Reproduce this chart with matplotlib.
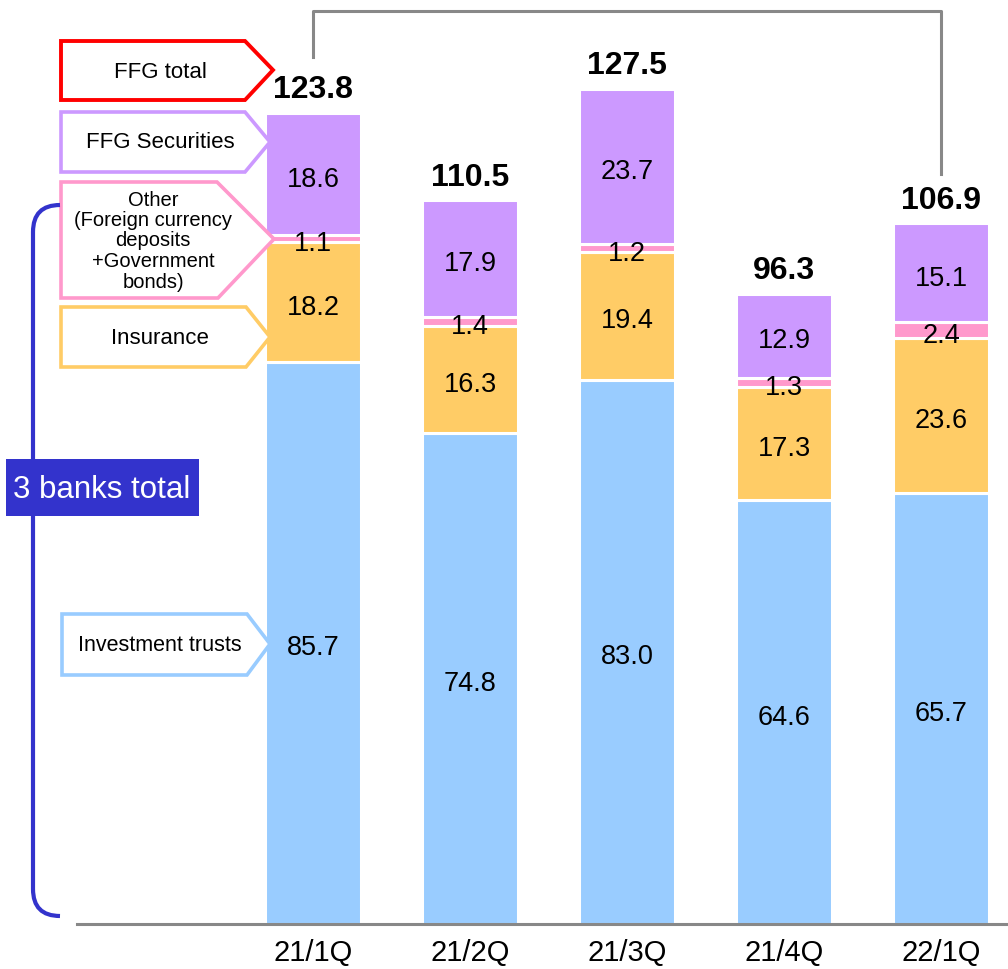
import numpy as np
import matplotlib.pyplot as plt
from matplotlib.patches import Polygon, Rectangle, PathPatch
from matplotlib.path import Path

plt.rcParams['font.family'] = ['Liberation Sans', 'DejaVu Sans']

# data
quarters = ['21/1Q', '21/2Q', '21/3Q', '21/4Q', '22/1Q']
invest_trusts = [85.7, 74.8, 83.0, 64.6, 65.7]
insurance = [18.2, 16.3, 19.4, 17.3, 23.6]
other = [1.1, 1.4, 1.2, 1.3, 2.4]
ffg_securities = [18.6, 17.9, 23.7, 12.9, 15.1]
ffg_total = [123.8, 110.5, 127.5, 96.3, 106.9]

series = [invest_trusts, insurance, other, ffg_securities]
colors = ['#99ccff', '#ffcc66', '#ff99cc', '#cc99ff']

fig = plt.figure(figsize=(10.08, 9.70), dpi=100)

# main axes, pixel layout: baseline at y=925, bar centres at 313 + 157*i
ax = fig.add_axes([0, 45 / 970, 1, 925 / 970])
ax.set_xlim(-313 / 157, 695 / 157)
ax.set_ylim(0, 925 / 6.56)
ax.patch.set_alpha(0)
for s in ax.spines.values():
    s.set_visible(False)
ax.set_yticks([])

x = np.arange(len(quarters))
bottom = np.zeros(len(quarters))
for vals, c in zip(series, colors):
    vals = np.array(vals)
    ax.bar(x, vals, width=0.61, bottom=bottom, color=c,
           edgecolor='white', linewidth=2.2, zorder=2)
    for xi, b, v in zip(x, bottom, vals):
        ax.text(xi, b + v / 2 - 0.7, f'{v:.1f}', ha='center', va='center',
                fontsize=19.5, color='black', zorder=4)
    bottom = bottom + vals

for xi, t in zip(x, ffg_total):
    ax.text(xi, t + 2.2, f'{t:.1f}', ha='center', va='baseline',
            fontsize=23, fontweight='bold', zorder=4)

# baseline
ax.plot([-1.503, 4.5], [0, 0], color='#888888', lw=2.2, clip_on=False, zorder=3)

# gray bracket from first to last quarter
ytop = 139.2
ax.plot([x[0], x[0], x[-1], x[-1]],
        [ffg_total[0] + 8.4, ytop, ytop, ffg_total[-1] + 7.4],
        color='#888888', lw=2.2, clip_on=False, zorder=3)

ax.set_xticks(x, quarters)
ax.tick_params(axis='x', length=0, pad=10, labelsize=21)

# overlay in pixel coordinates for the legend call-outs
ov = fig.add_axes([0, 0, 1, 1])
ov.set_xlim(0, 1008)
ov.set_ylim(970, 0)
ov.axis('off')
ov.patch.set_alpha(0)


def callout(x0, y0, y1, xr_top, xr_bot, xtip, ytip, color, lw=2.6):
    pts = [(x0, y0), (xr_top, y0), (xtip, ytip), (xr_bot, y1), (x0, y1)]
    ov.add_patch(Polygon(pts, closed=True, facecolor='white',
                         edgecolor=color, lw=lw, joinstyle='miter'))


callout(61, 42, 101, 245, 245, 273, 71, '#ff0000', lw=2.8)
ov.text(160, 72, 'FFG total', ha='center', va='center', fontsize=16)

callout(61, 113, 173, 245, 245, 270, 143, '#cc99ff')
ov.text(160, 143, 'FFG Securities', ha='center', va='center', fontsize=16)

callout(61, 183, 299, 217, 218, 274, 240, '#ff99cc')
ov.text(153, 241, 'Other\n(Foreign currency\ndeposits\n+Government\nbonds)',
        ha='center', va='center', fontsize=14.5, linespacing=1.1)

callout(61, 308, 368, 246, 246, 270, 338, '#ffcc66')
ov.text(160, 339, 'Insurance', ha='center', va='center', fontsize=16)

callout(62, 615, 676, 247, 247, 270, 645, '#99ccff')
ov.text(160, 646, 'Investment trusts', ha='center', va='center', fontsize=15.5)

# blue bracket for the three banks
verts = [(60, 206), (33, 206), (33, 233), (33, 890), (33, 917), (60, 917)]
codes = [Path.MOVETO, Path.CURVE3, Path.CURVE3, Path.LINETO, Path.CURVE3, Path.CURVE3]
ov.add_patch(PathPatch(Path(verts, codes), facecolor='none',
                       edgecolor='#3333cc', lw=3.0))
ov.add_patch(Rectangle((6, 460), 193, 57, facecolor='#3333cc', edgecolor='none'))
ov.text(102, 490, '3 banks total', ha='center', va='center',
        fontsize=22.5, color='white')

fig.savefig('out.png', dpi=100)
